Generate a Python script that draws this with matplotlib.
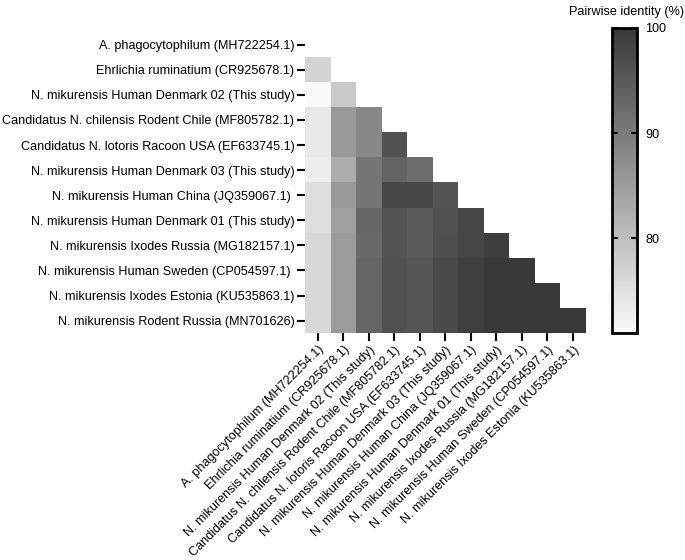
import numpy as np
import matplotlib
matplotlib.use("Agg")
import matplotlib.pyplot as plt
from matplotlib.colors import LinearSegmentedColormap

plt.rcParams['font.family'] = ['Liberation Sans', 'DejaVu Sans']

row_labels = [
    "A. phagocytophilum (MH722254.1)",
    "Ehrlichia ruminatium (CR925678.1)",
    "N. mikurensis Human Denmark 02 (This study)",
    "Candidatus N. chilensis Rodent Chile (MF805782.1)",
    "Candidatus N. lotoris Racoon USA (EF633745.1)",
    "N. mikurensis Human Denmark 03 (This study)",
    "N. mikurensis Human China (JQ359067.1) ",
    "N. mikurensis Human Denmark 01 (This study)",
    "N. mikurensis Ixodes Russia (MG182157.1)",
    "N. mikurensis Human Sweden (CP054597.1) ",
    "N. mikurensis Ixodes Estonia (KU535863.1)",
    "N. mikurensis Rodent Russia (MN701626)",
]
col_labels = [
    "A. phagocytophilum (MH722254.1)",
    "Ehrlichia ruminatium (CR925678.1)",
    "N. mikurensis Human Denmark 02 (This study)",
    "Candidatus N. chilensis Rodent Chile (MF805782.1)",
    "Candidatus N. lotoris Racoon USA (EF633745.1)",
    "N. mikurensis Human Denmark 03 (This study)",
    "N. mikurensis Human China (JQ359067.1)",
    "N. mikurensis Human Denmark 01 (This study)",
    "N. mikurensis Ixodes Russia (MG182157.1)",
    "N. mikurensis Human Sweden (CP054597.1)",
    "N. mikurensis Ixodes Estonia (KU535863.1)",
]

# lower-triangular pairwise identity (%) ; row i has i values
identity_rows = [
    [],
    [76.7],
    [71.0, 78.4],
    [73.8, 85.5, 88.0],
    [73.8, 85.5, 88.0, 96.1],
    [72.9, 82.7, 90.9, 93.5, 92.0],
    [75.3, 85.5, 90.9, 97.5, 97.5, 95.8],
    [75.3, 84.6, 92.9, 95.7, 94.8, 96.3, 97.8],
    [76.2, 85.2, 92.6, 95.7, 94.8, 96.6, 97.8, 98.9],
    [76.2, 85.2, 93.2, 96.1, 95.4, 97.2, 98.8, 99.7, 99.7],
    [76.2, 85.2, 93.2, 96.1, 95.4, 97.2, 98.8, 99.7, 99.7, 100.0],
    [76.2, 85.2, 93.2, 96.1, 95.4, 97.2, 98.8, 99.7, 99.7, 100.0, 99.8],
]
vmin, vmax = 71.0, 100.0

n_rows, n_cols = len(row_labels), len(col_labels)
mat = np.full((n_rows, n_cols), np.nan)
for i, vals in enumerate(identity_rows):
    mat[i, :len(vals)] = vals

cmap = LinearSegmentedColormap.from_list("gr", ["#fbfbfb", "#383838"])
cmap.set_bad((1, 1, 1, 0))

FS = 9.1
fig = plt.figure(figsize=(6.85, 5.6), dpi=100)
ax = fig.add_axes([0.445, 0.405, 0.410, 0.5375])
im = ax.imshow(np.ma.masked_invalid(mat), cmap=cmap, vmin=vmin, vmax=vmax,
               aspect='auto', interpolation='nearest')
ax.set_yticks(range(n_rows))
ax.set_yticklabels(row_labels, fontsize=FS)
ax.set_xticks(range(n_cols))
ax.set_xticklabels(col_labels, fontsize=FS, rotation=45, ha='right',
                   rotation_mode='anchor')
ax.set_xlim(-0.5, n_cols - 0.5)
ax.set_ylim(n_rows - 0.5, -0.5)
for s in ax.spines.values():
    s.set_visible(False)
ax.tick_params(length=6, width=1.5, color='black', pad=1.5)

cax = fig.add_axes([0.893, 0.405, 0.0365, 0.545])
cb = fig.colorbar(im, cax=cax, ticks=[80, 90, 100])
cb.outline.set_linewidth(2)
cax.tick_params(direction='in', length=4, width=1.5, left=True, right=True,
                labelsize=FS, pad=6)
fig.text(0.915, 0.99, "Pairwise identity (%)", ha='center', va='top', fontsize=FS)

fig.savefig("out.png", dpi=100)
